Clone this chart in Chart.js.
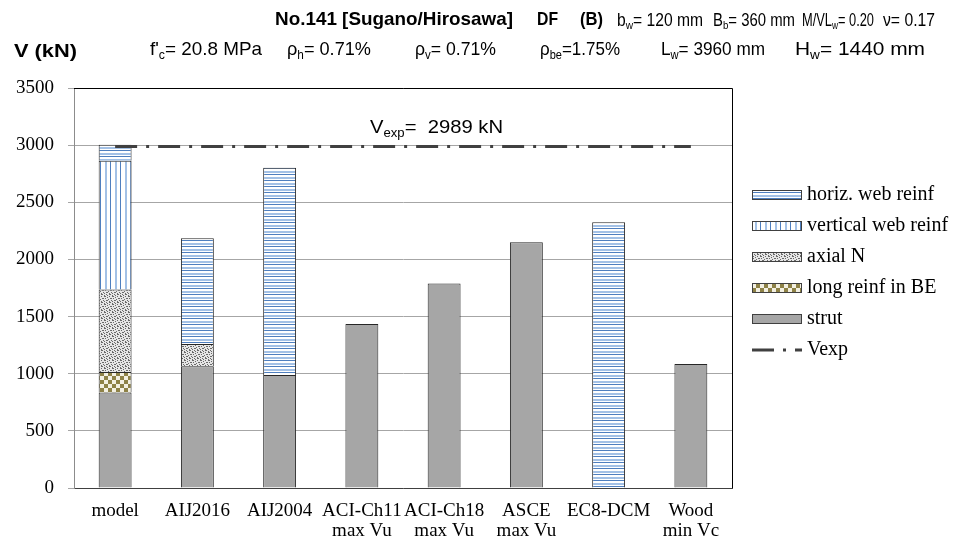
<!DOCTYPE html>
<html>
<head>
<meta charset="utf-8">
<script src="https://cdn.jsdelivr.net/npm/chart.js@4/dist/chart.umd.min.js"></script>
<style>
html,body{margin:0;padding:0;background:#fff;}
canvas{display:block;}
</style>
</head>
<body>
<canvas id="c" width="954" height="540"></canvas>
<script>
// ---- data ----
const categories = [["model"], ["AIJ2016"], ["AIJ2004"], ["ACI-Ch11", "max Vu"], ["ACI-Ch18", "max Vu"], ["ASCE", "max Vu"], ["EC8-DCM"], ["Wood", "min Vc"]];
const strut      = [836, 1066, 988, 1436, 1789, 2150, null, 1084];
const longReinfBE= [180, null, null, null, null, null, null, null];
const axialN     = [720, 193, null, null, null, null, null, null];
const vertWeb    = [1128, null, null, null, null, null, null, null];
const horizWeb   = [140, 926, 1815, null, null, null, 2325, null];
const vexp       = [2989, 2989, 2989, 2989, 2989, 2989, 2989, 2989];
const yTicks     = [0, 500, 1000, 1500, 2000, 2500, 3000, 3500];
const vexpValue  = 2989;

const canvas = document.getElementById('c');
const ctx = canvas.getContext('2d');

function makePattern(w, h, draw) {
  const c = document.createElement('canvas');
  c.width = w; c.height = h;
  const g = c.getContext('2d');
  g.fillStyle = '#ffffff'; g.fillRect(0, 0, w, h);
  draw(g);
  return ctx.createPattern(c, 'repeat');
}
const DARKB = '#4f7fbf', LIGHTB = '#a3c1e6';
const patHoriz = makePattern(1, 6, g => {
  g.fillStyle = DARKB; g.fillRect(0, 0, 1, 1);
  g.fillStyle = LIGHTB; g.fillRect(0, 3, 1, 2);
});
const patVert = makePattern(10, 1, g => {
  g.fillStyle = DARKB; g.fillRect(0, 0, 1, 1);
  g.fillStyle = LIGHTB; g.fillRect(5, 0, 2, 1);
});
const dotCells = [[0,0],[1,0],[5,0],[3,1],[1,2],[6,2],[7,2],[4,3],[2,4],[3,4],[7,4],[0,5],[5,5],[2,6],[5,6],[6,6],[0,7],[3,7]];
const patAxial = makePattern(8, 8, g => {
  g.fillStyle = '#e6e6e6'; g.fillRect(0, 0, 8, 8);
  g.fillStyle = '#6a6a6a';
  dotCells.forEach(p => g.fillRect(p[0], p[1], 1, 1));
});
const patChecker = makePattern(8, 8, g => {
  g.fillStyle = '#f3f0e2'; g.fillRect(0, 0, 8, 8);
  g.fillStyle = '#8e8247'; g.fillRect(0, 0, 4, 4); g.fillRect(4, 4, 4, 4);
});
const STRUT = '#a6a6a6';
const DASH = [22, 9, 3, 9];

const SERIF = "'Liberation Serif', 'Times New Roman', serif";
const SANS = "'Liberation Sans', Arial, sans-serif";

// header / annotations / legend plugin
const decor = {
  id: 'decor',
  beforeDraw(chart) {
    const g = chart.ctx;
    g.save();
    g.fillStyle = '#fff';
    g.fillRect(0, 0, chart.width, chart.height);
    g.restore();
  },
  afterDraw(chart) {
    const g = chart.ctx;
    const ca = chart.chartArea;
    g.save();
    // plot border top/right
    g.strokeStyle = '#000'; g.lineWidth = 1;
    g.beginPath();
    g.moveTo(ca.left, ca.top + 0.5); g.lineTo(ca.right + 0.5, ca.top + 0.5);
    g.lineTo(ca.right + 0.5, ca.bottom);
    g.stroke();

    function fontFor(S, kind, bold) {
      const fs = kind === 'sub' ? S * 0.65 : S;
      return (bold ? 'bold ' : '') + fs + 'px ' + SANS;
    }
    // rich text fitted between x0 and x1: segments [text, kind, bold]
    function rich(x0, x1, y, S, segs) {
      let total = 0;
      for (const s of segs) { g.font = fontFor(S, s[1], s[2]); total += g.measureText(s[0]).width; }
      const sx = x1 ? (x1 - x0) / total : 1;
      g.save();
      g.translate(x0, y);
      g.scale(sx, 1);
      g.textBaseline = 'middle';
      g.textAlign = 'left';
      g.fillStyle = '#000';
      let cx = 0;
      for (const s of segs) {
        g.font = fontFor(S, s[1], s[2]);
        const dy = s[1] === 'sub' ? S * 0.3 : 0;
        g.fillText(s[0], cx, dy);
        cx += g.measureText(s[0]).width;
      }
      g.restore();
    }
    // line 1
    rich(275, 513, 20, 19, [["No.141 [Sugano/Hirosawa]", null, true]]);
    rich(537, 558, 20, 19, [["DF", null, true]]);
    rich(580, 603, 20, 19, [["(B)", null, true]]);
    rich(617, 703, 21, 17.5, [["b"], ["w", 'sub'], ["= 120 mm"]]);
    rich(713, 795, 21, 17.5, [["B"], ["b", 'sub'], ["= 360 mm"]]);
    rich(802, 874, 21, 17.5, [["M/VL"], ["w", 'sub'], ["= 0.20"]]);
    rich(883, 935, 21, 17.5, [["ν= 0.17"]]);
    // line 2
    rich(14, 77, 52, 19, [["V (kN)", null, true]]);
    rich(150, 262, 50, 19, [["f'"], ["c", 'sub'], ["= 20.8 MPa"]]);
    rich(287, 371, 50, 19, [["ρ"], ["h", 'sub'], ["= 0.71%"]]);
    rich(415, 496, 50, 19, [["ρ"], ["v", 'sub'], ["= 0.71%"]]);
    rich(540, 620, 50, 19, [["ρ"], ["be", 'sub'], ["=1.75%"]]);
    rich(661, 765, 50, 19, [["L"], ["w", 'sub'], ["= 3960 mm"]]);
    rich(795, 925, 50, 19, [["H"], ["w", 'sub'], ["= 1440 mm"]]);

    // Vexp annotation
    const yv = chart.scales.y.getPixelForValue(vexpValue);
    rich(370, 503, yv - 19, 19, [["V"], ["exp", 'sub'], ["=  " + vexpValue + " kN"]]);

    // legend
    const items = [
      ['horiz. web reinf', patHoriz],
      ['vertical web reinf', patVert],
      ['axial N', patAxial],
      ['long reinf in BE', patChecker],
      ['strut', STRUT],
      ['Vexp', 'line']
    ];
    const lx = 752, lw = 50;
    items.forEach((it, i) => {
      const y = 195 + i * 31;
      if (it[1] === 'line') {
        g.strokeStyle = '#404040'; g.lineWidth = 3; g.setLineDash(DASH);
        g.beginPath(); g.moveTo(lx, y); g.lineTo(lx + lw, y); g.stroke();
        g.setLineDash([]);
      } else {
        g.fillStyle = it[1];
        g.fillRect(lx, y - 5, lw, 10);
        g.strokeStyle = '#404040'; g.lineWidth = 1;
        g.strokeRect(lx + 0.5, y - 5 + 0.5, lw - 1, 9);
      }
      g.fillStyle = '#000';
      g.font = '20px ' + SERIF;
      g.textBaseline = 'middle';
      g.textAlign = 'left';
      g.fillText(it[0], lx + lw + 5, y);
    });
    g.restore();
  }
};

const barCommon = { borderColor: '#262626', borderWidth: 1, order: 1, stack: 's' };

new Chart(ctx, {
  type: 'bar',
  data: {
    labels: categories,
    datasets: [
      Object.assign({ label: 'strut', data: strut, backgroundColor: STRUT }, barCommon),
      Object.assign({ label: 'long reinf in BE', data: longReinfBE, backgroundColor: patChecker }, barCommon),
      Object.assign({ label: 'axial N', data: axialN, backgroundColor: patAxial }, barCommon),
      Object.assign({ label: 'vertical web reinf', data: vertWeb, backgroundColor: patVert }, barCommon),
      Object.assign({ label: 'horiz. web reinf', data: horizWeb, backgroundColor: patHoriz }, barCommon),
      { type: 'line', label: 'Vexp', data: vexp, borderColor: '#404040', borderWidth: 3,
        borderDash: DASH, pointRadius: 0, fill: false, order: 0, stack: 'line' }
    ]
  },
  options: {
    responsive: false,
    animation: false,
    devicePixelRatio: 1,
    layout: { padding: { top: 88, right: 222, bottom: 0, left: 0 } },
    plugins: { legend: { display: false }, tooltip: { enabled: false } },
    datasets: { bar: { categoryPercentage: 1, barPercentage: 0.4 } },
    scales: {
      x: {
        stacked: true,
        offset: true,
        grid: { display: false, drawTicks: false },
        border: { color: '#404040', width: 1 },
        ticks: { font: { family: SERIF, size: 19, lineHeight: 1.05 }, color: '#000', padding: 13, maxRotation: 0, autoSkip: false },
        afterFit(s) { s.height = 52; }
      },
      y: {
        stacked: true,
        min: 0, max: 3500,
        afterBuildTicks(s) { s.ticks = yTicks.map(v => ({ value: v })); },
        grid: { color: '#a6a6a6', lineWidth: 1, tickLength: 6, drawTicks: true },
        border: { color: '#8c8c8c', width: 1 },
        ticks: { font: { family: SERIF, size: 19 }, color: '#000', padding: 14, callback: v => String(v) },
        afterFit(s) { s.width = 74; }
      }
    }
  },
  plugins: [decor]
});
</script>
</body>
</html>
